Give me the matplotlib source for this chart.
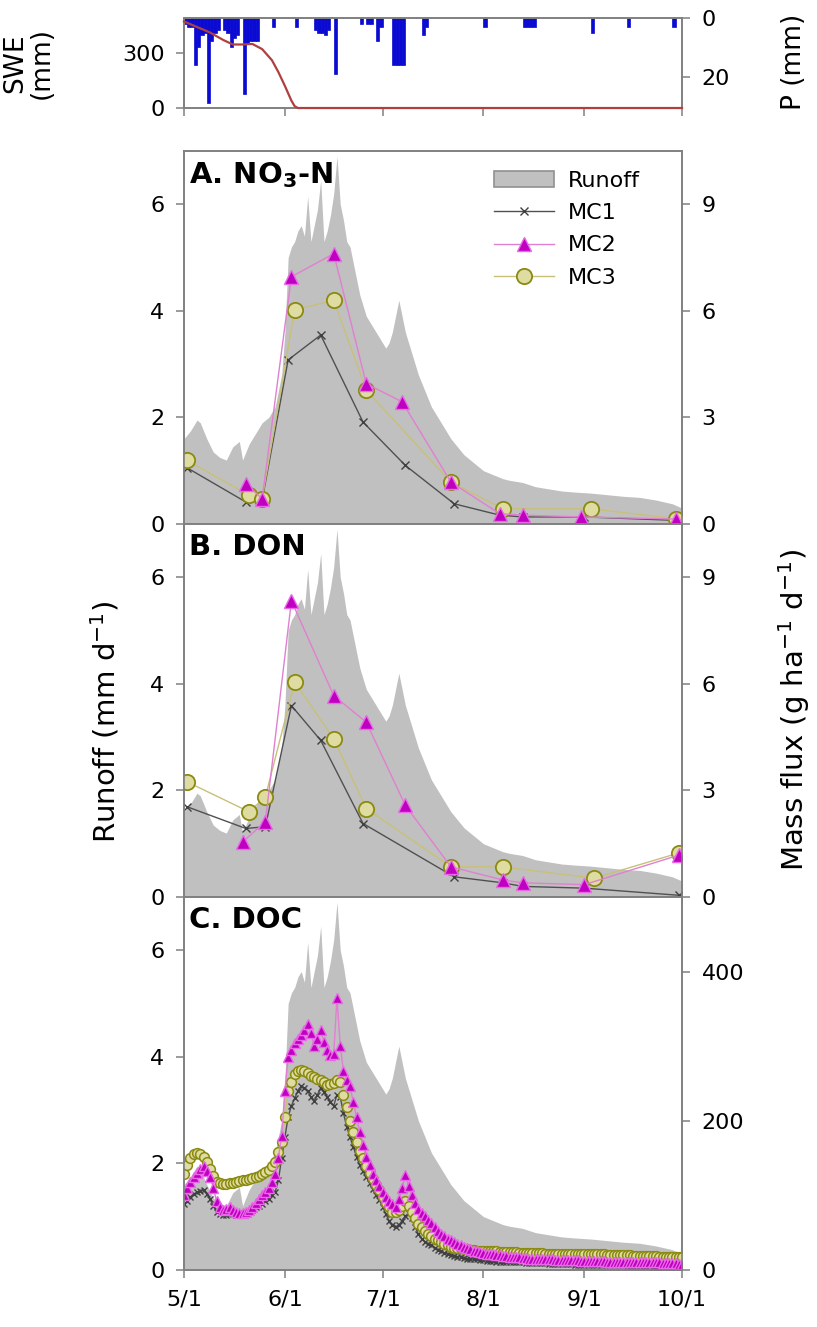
import numpy as np
import matplotlib.pyplot as plt
from matplotlib.patches import Patch

plt.rcParams['font.family'] = ['DejaVu Sans']
plt.rcParams['mathtext.fontset'] = 'dejavusans'

# x axis: days since 5/1
month_days = [0, 31, 61, 92, 123, 153]
month_labels = ['5/1', '6/1', '7/1', '8/1', '9/1', '10/1']

# top panel: precipitation (mm) and snow water equivalent (mm)
p_days = [0, 1, 2, 3, 4, 5, 6, 7, 8, 9, 10, 12, 13, 14, 15, 16, 18, 19, 20, 21, 22,
          27, 34, 40, 41, 42, 43, 44, 46, 54, 56, 57, 59, 60, 64, 65, 66, 67, 73, 74,
          92, 104, 105, 106, 107, 125, 136, 150]
p_mm = [2, 3, 3, 16, 10, 6, 5, 29, 8, 5, 4, 4, 5, 10, 7, 6, 26, 9, 8, 8, 8,
        3, 3, 4, 5, 5, 6, 4, 19, 2, 2, 2, 8, 3, 16, 16, 16, 16, 6, 3,
        3, 3, 3, 3, 3, 5, 3, 3]
swe_days = [0, 4, 8, 12, 15, 18, 21, 24, 27, 29, 31, 33, 34, 35, 153]
swe_mm = [470, 440, 410, 370, 345, 345, 348, 320, 260, 195, 120, 40, 10, 0, 0]

# runoff (mm/d)
q_days = [0, 2, 4, 5, 7, 9, 11, 13, 15, 17, 18, 20, 22, 24, 26, 28, 29, 30, 31, 32,
          33, 34, 35, 36, 37, 38, 39, 40, 41, 42, 43, 44, 45, 46, 47, 48, 49, 50, 51, 52,
          54, 56, 58, 60, 62, 63, 64, 66, 67, 68, 70, 72, 74, 76, 78, 80, 82, 84, 86, 88,
          90, 92, 94, 96, 98, 100, 104, 108, 112, 116, 120, 125, 130, 135, 140, 145, 150, 153]
q_mm = [1.6, 1.75, 1.95, 1.9, 1.6, 1.35, 1.25, 1.2, 1.45, 1.55, 1.2, 1.5, 1.7, 1.9, 2.0, 2.2, 2.5, 2.8, 3.6, 5.0,
        5.2, 5.3, 5.5, 5.6, 5.4, 6.15, 5.3, 5.6, 5.9, 6.45, 5.3, 5.5, 5.8, 6.2, 6.9, 6.0, 5.7, 5.3, 5.2, 4.9,
        4.3, 3.9, 3.7, 3.5, 3.3, 3.4, 3.6, 4.2, 3.9, 3.6, 3.2, 2.8, 2.5, 2.2, 2.0, 1.8, 1.6, 1.45, 1.3, 1.2,
        1.1, 1.0, 0.95, 0.9, 0.85, 0.82, 0.78, 0.7, 0.66, 0.62, 0.6, 0.58, 0.55, 0.52, 0.5, 0.45, 0.38, 0.3]

# A. NO3-N mass flux (g/ha/d)
no3_mc1_days = [1, 19, 24, 32, 42, 55, 68, 83, 97, 104, 123, 152]
no3_mc1 = [1.58, 0.62, 0.67, 4.62, 5.32, 2.87, 1.65, 0.57, 0.25, 0.2, 0.2, 0.1]
no3_mc2_days = [19, 24, 33, 46, 56, 67, 82, 97, 104, 122, 151]
no3_mc2 = [1.14, 0.71, 6.96, 7.61, 3.95, 3.44, 1.18, 0.29, 0.25, 0.2, 0.14]
no3_mc3_days = [1, 20, 24, 34, 46, 56, 82, 98, 125, 151]
no3_mc3 = [1.79, 0.81, 0.71, 6.02, 6.3, 3.77, 1.18, 0.43, 0.43, 0.15]

# B. DON mass flux (g/ha/d)
don_mc1_days = [1, 19, 25, 33, 42, 55, 83, 98, 104, 123, 152]
don_mc1 = [2.54, 1.93, 1.98, 5.39, 4.41, 2.07, 0.57, 0.4, 0.3, 0.25, 0.05]
don_mc2_days = [18, 25, 33, 46, 56, 68, 82, 98, 104, 123, 152]
don_mc2 = [1.55, 2.12, 8.34, 5.67, 4.92, 2.58, 0.85, 0.48, 0.4, 0.35, 1.18]
don_mc3_days = [1, 20, 25, 34, 46, 56, 82, 98, 126, 152]
don_mc3 = [3.24, 2.4, 2.82, 6.05, 4.46, 2.49, 0.85, 0.85, 0.53, 1.24]

# C. DOC mass flux (g/ha/d), daily from 5/1
doc_days = list(range(154))
doc_mc1 = [88, 92, 98, 102, 104, 106, 107, 102, 95, 86,
           78, 75, 74, 74, 75, 75, 74, 74, 76, 77,
           78, 80, 84, 86, 89, 92, 95, 100, 104, 120,
           150, 178, 205, 220, 230, 240, 246, 244, 240, 232,
           226, 235, 244, 238, 232, 225, 220, 235, 232, 210,
           192, 178, 165, 152, 140, 132, 125, 116, 108, 100,
           94, 85, 75, 66, 60, 58, 60, 66, 72, 76,
           70, 58, 48, 42, 38, 35, 33, 30, 27, 25,
           23, 21, 20, 19, 18, 17, 16, 15, 15, 14,
           14, 13, 13, 12, 12, 12, 11, 11, 11, 10,
           10, 10, 10, 10, 10, 9, 9, 9, 9, 9,
           9, 9, 8, 8, 8, 8, 8, 8, 8, 8,
           7, 7, 7, 7, 7, 7, 7, 7, 6, 6,
           6, 6, 6, 6, 6, 6, 5, 5, 5, 5,
           5, 5, 5, 5, 4, 4, 4, 4, 4, 4,
           4, 4, 3, 3]
doc_mc2 = [100, 110, 118, 125, 130, 135, 139, 132, 125, 110,
           92, 84, 80, 82, 84, 80, 78, 76, 76, 78,
           80, 85, 90, 95, 100, 105, 110, 118, 128, 150,
           180, 240, 285, 295, 304, 310, 315, 322, 330, 318,
           300, 310, 322, 305, 295, 288, 290, 365, 300, 267,
           255, 246, 225, 205, 185, 168, 152, 140, 128, 120,
           112, 105, 98, 92, 88, 85, 95, 110, 127, 112,
           100, 90, 82, 76, 72, 67, 63, 57, 52, 48,
           45, 42, 40, 37, 35, 33, 31, 29, 28, 26,
           25, 24, 23, 22, 21, 21, 20, 20, 19, 19,
           18, 18, 17, 17, 16, 16, 15, 15, 15, 15,
           14, 14, 14, 14, 13, 13, 13, 13, 13, 13,
           13, 13, 12, 12, 12, 12, 12, 12, 12, 12,
           11, 11, 11, 11, 11, 11, 11, 11, 11, 11,
           11, 10, 10, 10, 10, 10, 10, 9, 9, 9,
           9, 9, 8, 8]
doc_mc3 = [128, 140, 150, 155, 157, 155, 152, 145, 135, 126,
           118, 116, 115, 115, 116, 117, 118, 119, 120, 121,
           122, 123, 124, 126, 128, 131, 134, 139, 145, 158,
           172, 205, 240, 252, 262, 266, 268, 266, 264, 260,
           258, 256, 255, 252, 248, 249, 250, 255, 252, 235,
           218, 200, 185, 172, 160, 150, 139, 130, 122, 114,
           107, 98, 90, 84, 78, 77, 80, 86, 92, 86,
           78, 70, 62, 57, 52, 48, 45, 42, 40, 37,
           35, 33, 31, 30, 29, 29, 28, 28, 27, 27,
           26, 26, 26, 25, 25, 25, 25, 24, 24, 24,
           24, 24, 24, 23, 23, 23, 23, 23, 23, 23,
           23, 22, 22, 22, 22, 22, 22, 22, 22, 22,
           22, 22, 21, 21, 21, 21, 21, 21, 21, 21,
           20, 20, 20, 20, 20, 20, 20, 20, 19, 19,
           19, 19, 19, 19, 19, 19, 18, 18, 18, 18,
           18, 18, 18, 18]

spine_c = '#808080'
fs = 16

fig = plt.figure(figsize=(8.17, 13.27), dpi=100)
L, W = 0.2252, 0.6096


def style(ax):
    for s in ax.spines.values():
        s.set_color(spine_c)
        s.set_linewidth(1.2)
    ax.tick_params(direction='out', length=6, width=1.1, color=spine_c, labelsize=fs, pad=8)


# top panel
ax0 = fig.add_axes([L, 0.9186, W, 0.0680])
ax0b = ax0.twinx()
ax0b.bar(p_days, p_mm, width=1.0, color='#0a0ad2', ec='#0a0ad2', lw=0.5, align='edge')
ax0b.set_ylim(30.6, 0)
ax0b.set_yticks([0, 20])
ax0.plot(swe_days, swe_mm, color='#b04040', lw=1.6, zorder=5, clip_on=False)
ax0.set_ylim(0, 490)
ax0.set_yticks([0, 300])
ax0.set_xlim(0, 153)
ax0.set_xticks(month_days)
ax0.set_xticklabels([])
ax0.set_zorder(2)
ax0.patch.set_visible(False)
style(ax0)
style(ax0b)
fig.text(0.035, 0.9526, 'SWE\n(mm)', rotation=90, ha='center', va='center', fontsize=19,
         linespacing=1.0)
fig.text(0.972, 0.953, 'P (mm)', rotation=90, ha='center', va='center', fontsize=19)

panels = [
    ('A. NO$_{\\mathbf{3}}$-N', 0.6051, 10.5, [0, 3, 6, 9],
     (no3_mc1_days, no3_mc1), (no3_mc2_days, no3_mc2), (no3_mc3_days, no3_mc3)),
    ('B. DON', 0.3240, 10.5, [0, 3, 6, 9],
     (don_mc1_days, don_mc1), (don_mc2_days, don_mc2), (don_mc3_days, don_mc3)),
    ('C. DOC', 0.0430, 500, [0, 200, 400],
     (doc_days, doc_mc1), (doc_days, doc_mc2), (doc_days, doc_mc3)),
]

for i, (title, bottom, rtop, rticks, s1, s2, s3) in enumerate(panels):
    ax = fig.add_axes([L, bottom, W, 0.2811])
    ax.fill_between(q_days, q_mm, 0, color='#c0c0c0', lw=0)
    ax.set_xlim(0, 153)
    ax.set_ylim(0, 7)
    ax.set_yticks([0, 2, 4, 6])
    ax.set_xticks(month_days)
    if i == 2:
        ax.set_xticklabels(month_labels)
    else:
        ax.set_xticklabels([])
    axr = ax.twinx()
    axr.set_ylim(0, rtop)
    axr.set_yticks(rticks)
    dense = i == 2
    l1, = axr.plot(s1[0], s1[1], color='#505050', lw=1.0, marker='x',
                   ms=4.5 if dense else 6, mec='#404040', mew=1.0)
    l3, = axr.plot(s3[0], s3[1], color='#c8c078', lw=1.0, marker='o',
                   ms=7 if dense else 11, mfc='#dedca0', mec='#8a8a10', mew=1.1 if dense else 1.3)
    l2, = axr.plot(s2[0], s2[1], color='#e080d0', lw=1.0, marker='^',
                   ms=7 if dense else 10, mfc='#c000c0', mec='#e868e8', mew=1.0)
    style(ax)
    style(axr)
    ax.text(0.01, 0.975, title, transform=ax.transAxes, ha='left', va='top',
            fontsize=21, fontweight='bold')
    if i == 0:
        runoff_h = Patch(facecolor='#c0c0c0', edgecolor='#909090', lw=1.2)
        axr.legend([runoff_h, l1, l2, l3], ['Runoff', 'MC1', 'MC2', 'MC3'],
                   loc='upper right', bbox_to_anchor=(0.955, 1.0), frameon=False,
                   fontsize=fs, handlelength=2.7, labelspacing=0.55, handletextpad=0.6,
                   borderaxespad=0.5)

fig.text(0.128, 0.456, 'Runoff (mm d$^{-1}$)', rotation=90, ha='center', va='center', fontsize=21)
fig.text(0.972, 0.465, 'Mass flux (g ha$^{-1}$ d$^{-1}$)', rotation=90, ha='center', va='center',
         fontsize=21)

fig.savefig('out.png', dpi=100)
